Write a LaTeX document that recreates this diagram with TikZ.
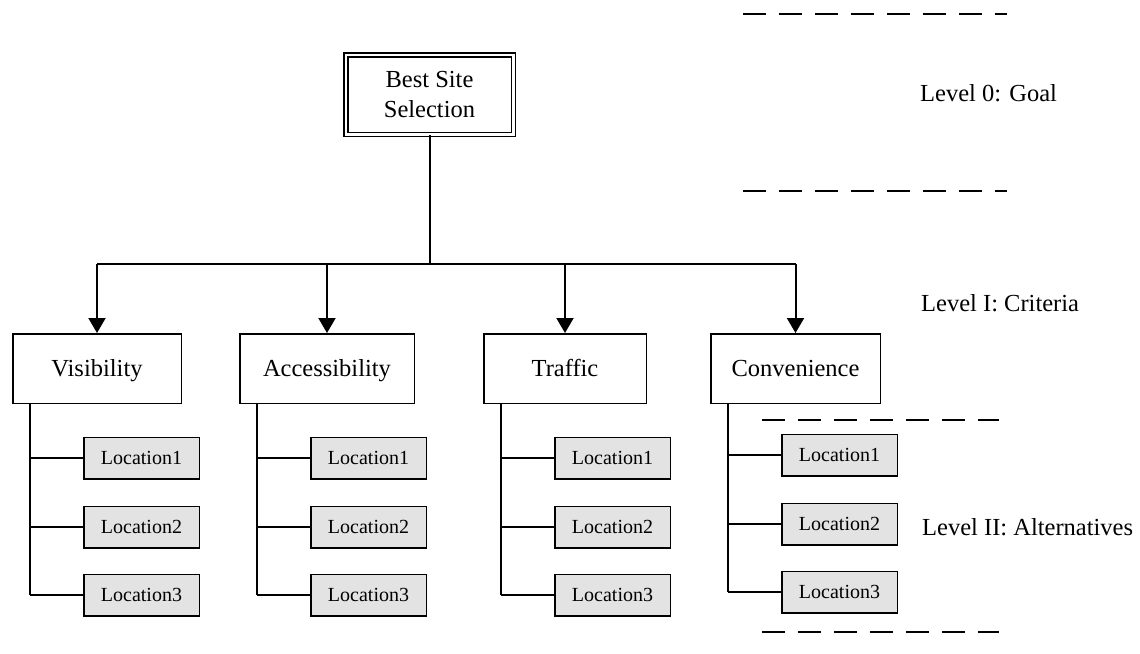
\documentclass[tikz,border=0pt]{standalone}
\usepackage{fontspec}
\setmainfont{Liberation Serif}
\usepackage{tikz}
\usetikzlibrary{calc}
\usetikzlibrary{positioning}
\usetikzlibrary{arrows.meta}

\begin{document}
\begin{tikzpicture}[x=1pt, y=-1pt,
        goalbox/.style={rectangle, draw=black, line width=1.5pt, double, double distance=2.5pt,
            minimum width=167.5pt, minimum height=79.5pt, inner sep=0pt, align=center,
            font=\fontsize{24.5}{29.5}\selectfont},
        crit/.style={rectangle, draw=black, line width=1.5pt, minimum height=69.5pt, inner sep=0pt,
            text height=16pt, text depth=0pt, font=\fontsize{24.5}{29.5}\selectfont},
        loc/.style={rectangle, draw=black, line width=1.5pt, fill=gray!22, minimum width=115.5pt,
            minimum height=41.5pt, inner sep=0pt, text height=13.5pt, text depth=0pt,
            font=\fontsize{20}{24}\selectfont},
        wire/.style={line width=2pt},
        down/.style={line width=2pt, -{Triangle[length=15pt, width=17pt]}},
        sep/.style={line width=2pt, dash pattern=on 23pt off 13pt},
        lvl/.style={anchor=west, inner sep=0pt, font=\fontsize{24.5}{29.5}\selectfont}]
            \useasboundingbox (0, 0) rectangle (1140, 653);
            \node[goalbox] (goal) at (429.5, 94.5) {Best Site\\Selection};
            \def\C{97/170/vis/Visibility, 327/176/acc/Accessibility, 565/164/tra/Traffic, 795.5/171/con/Convenience}
            \foreach \x/\w/\n/\t in \C
            {
                \node[crit, minimum width=\w pt - 1.5pt] (\n) at (\x, 368.5) {\t};
                \coordinate (\n-top) at (\n.north |- 0, 264);
                \draw[down] (\n-top) -- (\n);
            }
            \coordinate (bus) at (goal.south |- vis-top);
            \draw[wire] (goal) -- (bus);
            \draw[wire] (vis-top) -- (con-top);
            % alternatives under each criterion
            \foreach \n/\dy in {vis/0, acc/0, tra/0, con/-3}
            {
                \coordinate (\n-bar) at ($(\n.south west) + (18, 0)$);
                \foreach \y[count=\i from 1] in {458, 527, 595}
                {
                    \coordinate (\n-tap\i) at (\n-bar |- 0, \y + \dy);
                    \node[loc, right=53pt of \n-tap\i] (\n\i) {Location\i};
                    \draw[wire] (\n-tap\i) -- (\n\i);
                }
                \draw[wire] (\n-bar) -- (\n-tap3);
            }
            % levels
            \draw[sep] (743, 14) -- (1007, 14);
            \draw[sep] (743, 191) -- (1007, 191);
            \draw[sep] (762, 420) -- (999, 420);
            \draw[sep] (762, 632) -- (999, 632);
            \node[lvl] (lv0) at (920, 93) {Level 0: Goal};
            \node[lvl] (lv1) at (921, 303) {Level I: Criteria};
            \node[lvl] (lv2) at (922, 527) {Level II: Alternatives};
        \end{tikzpicture}
\end{document}
